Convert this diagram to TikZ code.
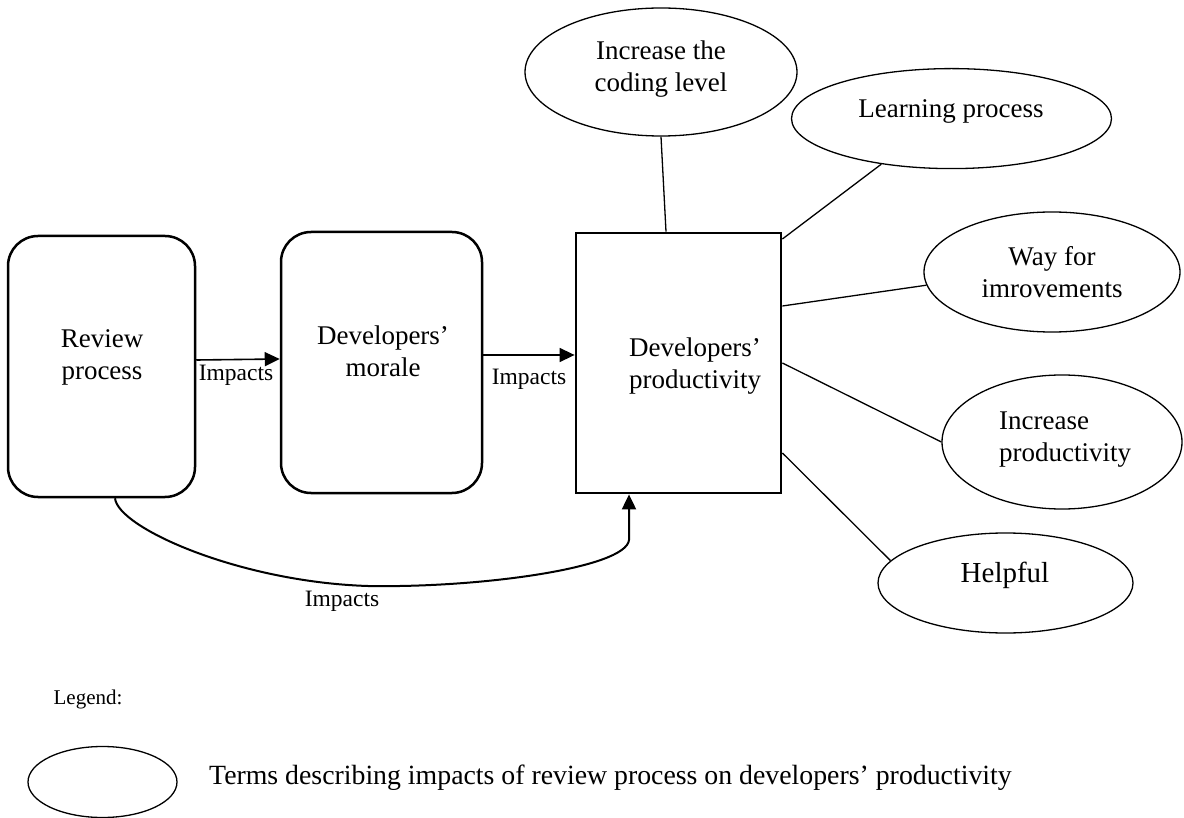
\documentclass[tikz,border=0pt]{standalone}
\usepackage{fontspec}
\setmainfont{Liberation Serif}
\usetikzlibrary{shapes.geometric,arrows.meta}
\begin{document}
\begin{tikzpicture}[x=1pt,y=-1pt,
 rbox/.style={draw, line width=2.5pt, rounded corners=30pt, inner sep=0pt},
 sbox/.style={draw, line width=2.8pt, inner sep=0pt},
 term/.style={draw, ellipse, line width=1.3pt, inner sep=0pt},
 txt/.style={font=\fontsize{27}{32}\selectfont, align=center, inner sep=0pt},
 lbl/.style={font=\fontsize{23.5}{28}\selectfont, inner sep=0pt},
 link/.style={line width=1.3pt},
 arr/.style={line width=1.6pt, -{Triangle[length=15pt,width=14pt]}},
]
\useasboundingbox (0,0) rectangle (1184,818);

% main boxes
\node[rbox, minimum width=187pt, minimum height=261pt] (review) at (101.5,366.5) {};
\node[rbox, minimum width=201pt, minimum height=261pt] (morale) at (381.5,362.5) {};
\node[sbox, minimum width=205pt, minimum height=260pt] (prod) at (678.5,363) {};

\node[txt] (reviewtxt) at (102,357.5) {Review\\process};
\node[txt] (moraletxt) at (383,351.5) {Developers’\\morale};
\node[txt] (prodtxt) at (695,366.5) {Developers’\\productivity};

% term ellipses
\node[term, minimum width=272pt, minimum height=128pt] (coding) at (661,72) {};
\node[term, minimum width=320pt, minimum height=100pt] (learning) at (951.5,118.6) {};
\node[term, minimum width=256pt, minimum height=120pt] (way) at (1052,272) {};
\node[term, minimum width=240pt, minimum height=134pt] (incprod) at (1062,442) {};
\node[term, minimum width=255pt, minimum height=100pt] (helpful) at (1005.5,583) {};

\node[txt] (codingtxt) at (661,69) {Increase the\\coding level};
\node[txt] (learningtxt) at (951,111) {Learning process};
\node[txt] (waytxt) at (1052,272.5) {Way for\\imrovements};
\node[txt, align=left, anchor=west] (incprodtxt) at (999,439.5) {Increase\\productivity};
\node[txt, font=\fontsize{29}{34}\selectfont] (helpfultxt) at (1005,575.5) {Helpful};

% connectors to terms
\draw[link] ([xshift=-12.5pt]prod.north) -- (coding.south);
\draw[link] ([yshift=124pt]prod.east) -- (learning.213.7);
\draw[link] ([yshift=57pt]prod.east) -- (way.186.6);
\draw[link] (prod.east) -- (incprod.180);
\draw[link] ([yshift=-90pt]prod.east) -- (helpful.169.2);

% impact arrows
\draw[arr] ([yshift=6.5pt]review.east) -- ([yshift=3.5pt]morale.west);
\draw[arr] ([yshift=7.5pt]morale.east) -- ([yshift=8pt]prod.west);
\draw[arr, line width=2pt] ([xshift=13.5pt]review.south) .. controls (118,528) and (240,582) .. (368,586) .. controls (480,588) and (626,568) .. (629,540) -- ([xshift=-49.5pt]prod.south);

\node[lbl] (imp1) at (236,375) {Impacts};
\node[lbl] (imp2) at (529,379) {Impacts};
\node[lbl] (imp3) at (342,601) {Impacts};

% legend
\node[font=\fontsize{21}{25}\selectfont, inner sep=0pt] (legend) at (88,699) {Legend:};
\node[term, minimum width=149pt, minimum height=71pt] (legendterm) at (102.5,782) {};
\node[txt, font=\fontsize{27.8}{32}\selectfont, anchor=west] (legendtxt) at (209,778) {Terms describing impacts of review process on developers’ productivity};
\end{tikzpicture}
\end{document}
